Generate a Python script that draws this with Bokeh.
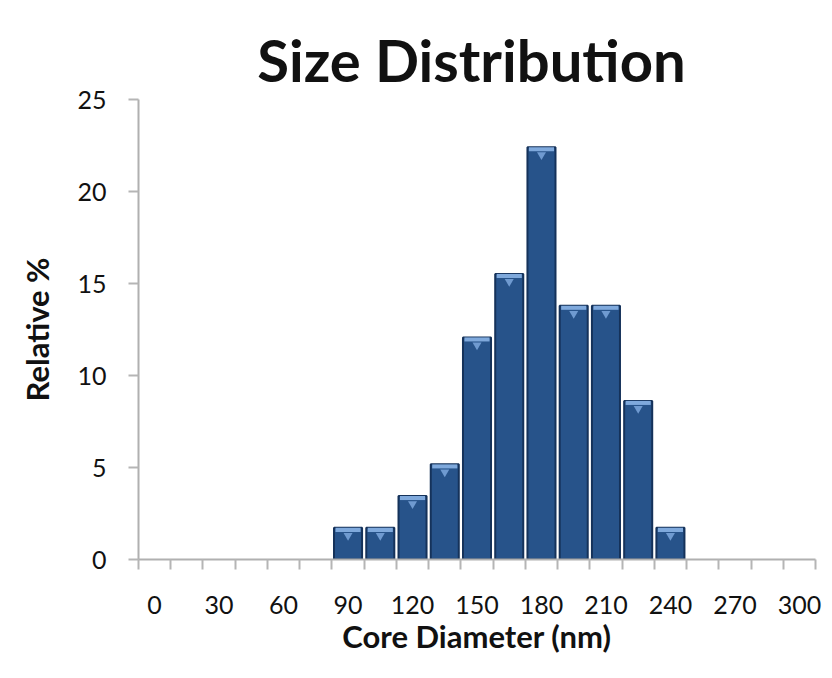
from bokeh.plotting import figure
from bokeh.layouts import column
from bokeh.models import Range1d, FixedTicker, Label
from bokeh.embed import file_html
from bokeh.resources import INLINE

# Data
diameters = [90, 105, 120, 135, 150, 165, 180, 195, 210, 225, 240]
relative = [1.72, 1.72, 3.45, 5.17, 12.07, 15.52, 22.41, 13.79, 13.79, 8.62, 1.72]
x_tick_values = [0, 30, 60, 90, 120, 150, 180, 210, 240, 270, 300]
y_tick_values = [0, 5, 10, 15, 20, 25]
title_text = "Size Distribution"

FONT = "Lato"
bin_width = 15
W = 824
H = 670
TITLE_H = 84
LEFT = 138

# Title strip (its frame is aligned with the main chart's frame by the column)
t = figure(width=W, height=TITLE_H, x_range=Range1d(0, 1), y_range=Range1d(0, 1),
           output_backend="svg", toolbar_location=None, min_border=0,
           min_border_left=LEFT, min_border_right=9)
t.axis.visible = False
t.grid.visible = False
t.outline_line_color = None
t.add_layout(Label(x=471 - LEFT, y=TITLE_H - 59, x_units="screen", y_units="screen",
                   text=title_text, text_font=FONT, text_font_size="58px",
                   text_font_style="bold", text_align="center",
                   text_baseline="alphabetic", text_color="#111111"))

# Main chart
p = figure(width=W, height=H - TITLE_H,
           x_range=Range1d(-bin_width / 2, 300 + bin_width / 2),
           y_range=Range1d(0, 25),
           output_backend="svg", toolbar_location=None,
           min_border_left=LEFT, min_border_right=9,
           min_border_top=99 - TITLE_H, min_border_bottom=111)

p.outline_line_color = None
p.xgrid.grid_line_color = None
p.ygrid.grid_line_color = None
p.background_fill_color = "white"
p.border_fill_color = "white"

# Bars
p.vbar(x=diameters, top=relative, width=bin_width * 0.87,
       fill_color="#27538a", line_color="#15325a", line_width=2)
# Top highlight
hl_bottom = [v - 0.22 for v in relative]
p.vbar(x=diameters, top=relative, bottom=hl_bottom, width=bin_width * 0.78,
       fill_color="#7fa9dc", line_color=None)
p.scatter(x=diameters, y=[v - 0.42 for v in relative], marker="inverted_triangle",
          size=9, fill_color="#6f9ad0", line_color=None)

# X axis
boundaries = [-bin_width / 2 + bin_width * k for k in range(22)]
xa = p.xaxis[0]
xa.ticker = FixedTicker(ticks=x_tick_values, minor_ticks=boundaries)
xa.major_tick_out = 0
xa.major_tick_in = 0
xa.minor_tick_out = 10
xa.minor_tick_in = 0
xa.minor_tick_line_color = "#b5b5b5"
xa.minor_tick_line_width = 2
xa.axis_line_color = "#b0b0b0"
xa.axis_line_width = 2
xa.major_label_standoff = 26
xa.major_label_text_font = FONT
xa.major_label_text_font_size = "25px"
xa.major_label_text_color = "#111111"
xa.axis_label = "Core Diameter (nm)"
xa.axis_label_text_font = FONT
xa.axis_label_text_font_size = "31px"
xa.axis_label_text_font_style = "bold"
xa.axis_label_text_color = "#111111"
xa.axis_label_standoff = 0

# Y axis
ya = p.yaxis[0]
ya.ticker = FixedTicker(ticks=y_tick_values)
ya.major_tick_out = 10
ya.major_tick_in = 0
ya.minor_tick_out = 0
ya.minor_tick_in = 0
ya.major_tick_line_color = "#b5b5b5"
ya.major_tick_line_width = 2
ya.axis_line_color = "#b0b0b0"
ya.axis_line_width = 2
ya.major_label_standoff = 22
ya.major_label_text_font = FONT
ya.major_label_text_font_size = "25px"
ya.major_label_text_color = "#111111"
ya.axis_label = "Relative %"
ya.axis_label_text_font = FONT
ya.axis_label_text_font_size = "31px"
ya.axis_label_text_font_style = "bold"
ya.axis_label_text_color = "#111111"
ya.axis_label_standoff = 18

layout = column(t, p, spacing=0)
open("out.html", "w").write(file_html(layout, INLINE))
